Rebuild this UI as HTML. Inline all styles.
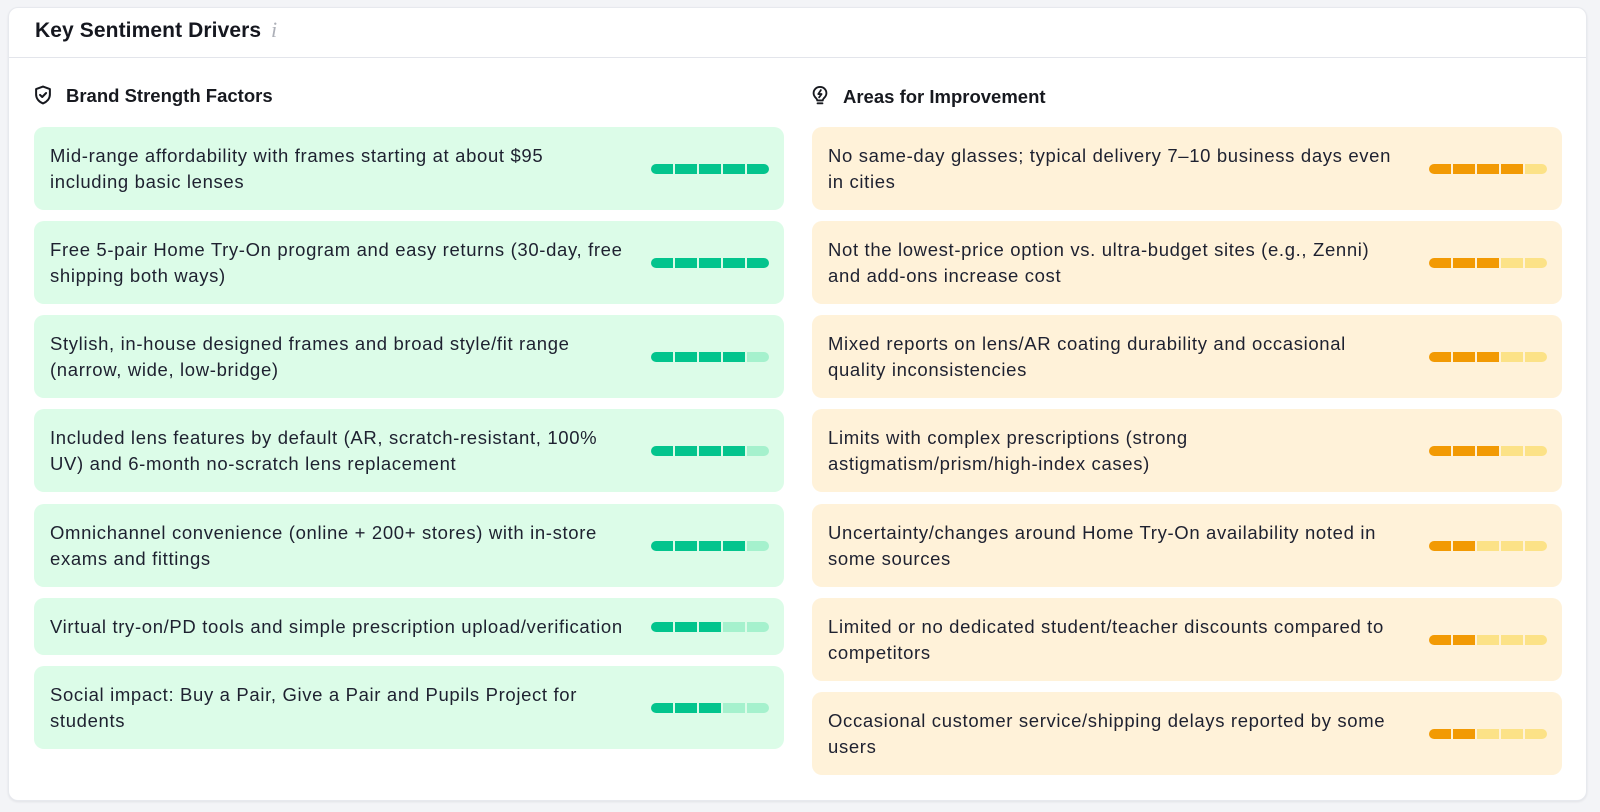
<!DOCTYPE html>
<html>
<head>
<meta charset="utf-8">
<style>
  html,body{margin:0;padding:0;}
  body{width:1600px;height:812px;background:#f3f4f7;position:relative;overflow:hidden;
       font-family:"Liberation Sans",Arial,sans-serif;color:#1e2130;}
  .card{position:absolute;left:8px;top:7px;width:1579px;height:794px;background:#fff;
        border-radius:10px;border:1px solid #e7e9ee;box-sizing:border-box;
        box-shadow:0 1px 2px rgba(20,25,40,0.08);}
  .divider{position:absolute;left:9px;top:57px;width:1577px;height:1px;background:#e3e5eb;}
  .title{position:absolute;left:35px;top:17px;font-size:21px;font-weight:bold;color:#15171f;
         letter-spacing:0.1px;line-height:28px;white-space:nowrap;}
  .info{position:absolute;left:271px;top:16px;font-family:"Liberation Serif",serif;font-style:italic;
        font-size:22px;color:#adb0b8;line-height:28px;}
  .sec{position:absolute;font-size:18.5px;font-weight:bold;color:#17191f;line-height:24px;white-space:nowrap;}
  .ico{position:absolute;}
  .item{position:absolute;width:750px;border-radius:10px;box-sizing:border-box;
        display:flex;align-items:center;padding:0 16px;}
  .g{background:#dcfce8;}
  .o{background:#fff2d9;}
  .txt{font-size:18.5px;line-height:26px;letter-spacing:0.65px;white-space:nowrap;color:#1e2130;}
  .bar{position:absolute;right:15px;top:50%;margin-top:-5px;width:118px;height:10px;display:flex;gap:1.5px;}
  .bar span{flex:1;height:10px;}
  .bar span:first-child{border-radius:5px 0 0 5px;}
  .bar span:last-child{border-radius:0 5px 5px 0;}
  .g .f{background:#03c48d;}
  .g .e{background:#a5f1cd;}
  .o .f{background:#f29a04;}
  .o .e{background:#fce287;}
</style>
</head>
<body>
<div class="card"></div>
<div class="divider"></div>
<div class="title">Key Sentiment Drivers</div>
<div class="info">i</div>

<!-- Left section header -->
<svg class="ico" style="left:33px;top:85px" width="20" height="20" viewBox="0 0 18 18">
  <path d="M9 1.4 L15.2 3.7 V8.6 C15.2 12.4 12.5 15.2 9 16.6 C5.5 15.2 2.8 12.4 2.8 8.6 V3.7 Z" fill="none" stroke="#17191f" stroke-width="1.8" stroke-linejoin="round"/>
  <path d="M6.3 8.9 L8.3 10.8 L11.8 7.2" fill="none" stroke="#17191f" stroke-width="1.8" stroke-linecap="round" stroke-linejoin="round"/>
</svg>
<div class="sec" style="left:66px;top:84px">Brand Strength Factors</div>

<!-- Right section header -->
<svg class="ico" style="left:810px;top:85px" width="20" height="21" viewBox="0 0 18 19">
  <path d="M9 1.8 C5.6 1.8 3.2 4.3 3.2 7.4 C3.2 9.5 4.3 10.9 5.6 12.1 C6.2 12.7 6.5 13.2 6.5 14 H11.5 C11.5 13.2 11.8 12.7 12.4 12.1 C13.7 10.9 14.8 9.5 14.8 7.4 C14.8 4.3 12.4 1.8 9 1.8 Z" fill="none" stroke="#17191f" stroke-width="1.7" stroke-linejoin="round"/>
  <path d="M6.8 16.6 H11.2" stroke="#17191f" stroke-width="1.7" stroke-linecap="round"/>
  <path d="M9.8 4.6 L7.4 8.2 H10.4 L8.2 11.2" fill="none" stroke="#17191f" stroke-width="1.6" stroke-linecap="round" stroke-linejoin="round"/>
</svg>
<div class="sec" style="left:843px;top:85px">Areas for Improvement</div>

<!-- Left column -->
<div class="item g" style="left:34px;top:127px;height:83px">
  <div class="txt">Mid-range affordability with frames starting at about $95<br>including basic lenses</div>
  <div class="bar"><span class="f"></span><span class="f"></span><span class="f"></span><span class="f"></span><span class="f"></span></div>
</div>
<div class="item g" style="left:34px;top:221px;height:83px">
  <div class="txt">Free 5-pair Home Try-On program and easy returns (30-day, free<br>shipping both ways)</div>
  <div class="bar"><span class="f"></span><span class="f"></span><span class="f"></span><span class="f"></span><span class="f"></span></div>
</div>
<div class="item g" style="left:34px;top:315px;height:83px">
  <div class="txt">Stylish, in-house designed frames and broad style/fit range<br>(narrow, wide, low-bridge)</div>
  <div class="bar"><span class="f"></span><span class="f"></span><span class="f"></span><span class="f"></span><span class="e"></span></div>
</div>
<div class="item g" style="left:34px;top:409px;height:83px">
  <div class="txt">Included lens features by default (AR, scratch-resistant, 100%<br>UV) and 6-month no-scratch lens replacement</div>
  <div class="bar"><span class="f"></span><span class="f"></span><span class="f"></span><span class="f"></span><span class="e"></span></div>
</div>
<div class="item g" style="left:34px;top:504px;height:83px">
  <div class="txt">Omnichannel convenience (online + 200+ stores) with in-store<br>exams and fittings</div>
  <div class="bar"><span class="f"></span><span class="f"></span><span class="f"></span><span class="f"></span><span class="e"></span></div>
</div>
<div class="item g" style="left:34px;top:598px;height:57px">
  <div class="txt">Virtual try-on/PD tools and simple prescription upload/verification</div>
  <div class="bar"><span class="f"></span><span class="f"></span><span class="f"></span><span class="e"></span><span class="e"></span></div>
</div>
<div class="item g" style="left:34px;top:666px;height:83px">
  <div class="txt">Social impact: Buy a Pair, Give a Pair and Pupils Project for<br>students</div>
  <div class="bar"><span class="f"></span><span class="f"></span><span class="f"></span><span class="e"></span><span class="e"></span></div>
</div>

<!-- Right column -->
<div class="item o" style="left:812px;top:127px;height:83px">
  <div class="txt">No same-day glasses; typical delivery 7–10 business days even<br>in cities</div>
  <div class="bar"><span class="f"></span><span class="f"></span><span class="f"></span><span class="f"></span><span class="e"></span></div>
</div>
<div class="item o" style="left:812px;top:221px;height:83px">
  <div class="txt">Not the lowest-price option vs. ultra-budget sites (e.g., Zenni)<br>and add-ons increase cost</div>
  <div class="bar"><span class="f"></span><span class="f"></span><span class="f"></span><span class="e"></span><span class="e"></span></div>
</div>
<div class="item o" style="left:812px;top:315px;height:83px">
  <div class="txt">Mixed reports on lens/AR coating durability and occasional<br>quality inconsistencies</div>
  <div class="bar"><span class="f"></span><span class="f"></span><span class="f"></span><span class="e"></span><span class="e"></span></div>
</div>
<div class="item o" style="left:812px;top:409px;height:83px">
  <div class="txt">Limits with complex prescriptions (strong<br>astigmatism/prism/high-index cases)</div>
  <div class="bar"><span class="f"></span><span class="f"></span><span class="f"></span><span class="e"></span><span class="e"></span></div>
</div>
<div class="item o" style="left:812px;top:504px;height:83px">
  <div class="txt">Uncertainty/changes around Home Try-On availability noted in<br>some sources</div>
  <div class="bar"><span class="f"></span><span class="f"></span><span class="e"></span><span class="e"></span><span class="e"></span></div>
</div>
<div class="item o" style="left:812px;top:598px;height:83px">
  <div class="txt">Limited or no dedicated student/teacher discounts compared to<br>competitors</div>
  <div class="bar"><span class="f"></span><span class="f"></span><span class="e"></span><span class="e"></span><span class="e"></span></div>
</div>
<div class="item o" style="left:812px;top:692px;height:83px">
  <div class="txt">Occasional customer service/shipping delays reported by some<br>users</div>
  <div class="bar"><span class="f"></span><span class="f"></span><span class="e"></span><span class="e"></span><span class="e"></span></div>
</div>
</body>
</html>
